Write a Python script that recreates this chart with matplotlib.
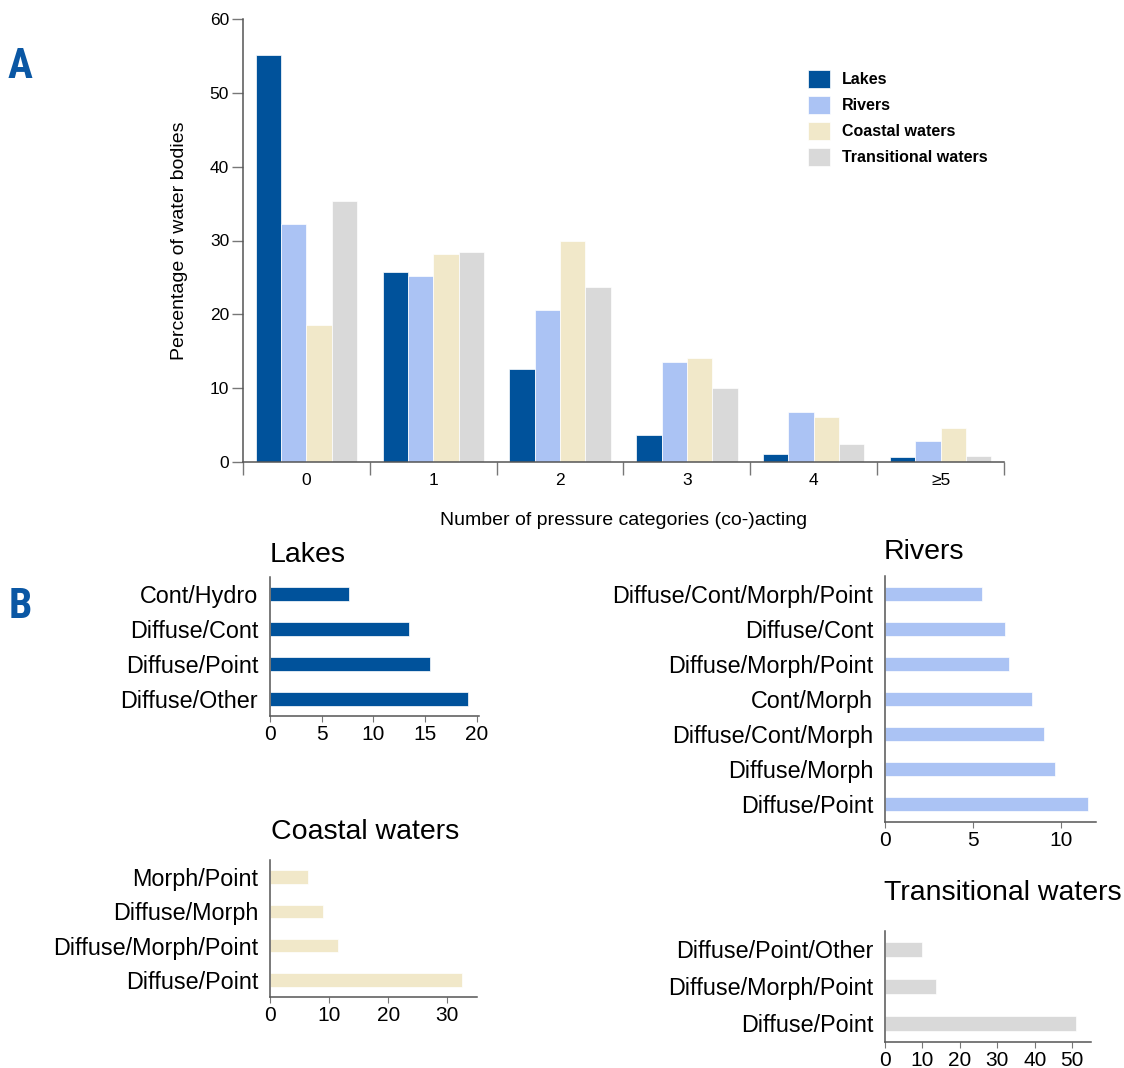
import matplotlib
matplotlib.use("Agg")
import matplotlib.pyplot as plt
from matplotlib import font_manager
import numpy as np

plt.rcParams['font.family'] = ['Liberation Sans', 'DejaVu Sans']

W, H = 1124, 1068

# Panel A: share of water bodies by number of co-acting pressure categories
categories = ['0', '1', '2', '3', '4', '≥5']
lakes = [55.1, 25.8, 12.6, 3.6, 1.1, 0.65]
rivers = [32.2, 25.2, 20.6, 13.55, 6.8, 2.85]
coastal = [18.6, 28.2, 30.0, 14.1, 6.1, 4.6]
transitional = [35.4, 28.5, 23.7, 10.05, 2.4, 0.8]
series_names = ['Lakes', 'Rivers', 'Coastal waters', 'Transitional waters']
colors = ['#00529b', '#abc3f4', '#f1e8c9', '#d9d9d9']

# Panel B: most frequent pressure combinations (bottom to top)
lakes_combos = ['Diffuse/Other', 'Diffuse/Point', 'Diffuse/Cont', 'Cont/Hydro']
lakes_pct = [19.1, 15.5, 13.4, 7.6]

rivers_combos = ['Diffuse/Point', 'Diffuse/Morph', 'Diffuse/Cont/Morph', 'Cont/Morph',
                 'Diffuse/Morph/Point', 'Diffuse/Cont', 'Diffuse/Cont/Morph/Point']
rivers_pct = [11.56, 9.66, 9.03, 8.36, 7.07, 6.8, 5.5]

coastal_combos = ['Diffuse/Point', 'Diffuse/Morph/Point', 'Diffuse/Morph', 'Morph/Point']
coastal_pct = [32.5, 11.5, 8.9, 6.5]

trans_combos = ['Diffuse/Point', 'Diffuse/Morph/Point', 'Diffuse/Point/Other']
trans_pct = [51.1, 13.6, 10.0]

SPINE = '#555555'
TICK = '#777777'


def pick_font(candidates, default):
    # first family that is really installed, without silent fallback
    for name in candidates:
        try:
            font_manager.findfont(font_manager.FontProperties(family=name), fallback_to_default=False)
            return name
        except ValueError:
            pass
    return default


LETTER_FONT = pick_font(['Liberation Sans Narrow', 'DejaVu Sans Condensed', 'Roboto Condensed',
                         'Open Sans Condensed', 'Noto Sans Condensed'], 'Roboto')


def px_axes(fig, left, top, right, bottom):
    # axes placed by pixel edges, measured from the top-left corner
    return fig.add_axes([left / W, 1 - bottom / H, (right - left) / W, (bottom - top) / H])


def style_spines(ax):
    for s in ['top', 'right']:
        ax.spines[s].set_visible(False)
    for s in ['left', 'bottom']:
        ax.spines[s].set_color(SPINE)
        ax.spines[s].set_linewidth(1.1)


def combo_panel(ax, labels, values, color, xmax, ticks):
    y = np.arange(len(labels))
    ax.barh(y, values, height=0.4, color=color, edgecolor='white', linewidth=0.5)
    ax.set_yticks(y, labels)
    ax.set_ylim(-0.5, len(labels) - 0.5)
    ax.set_xlim(0, xmax)
    ax.set_xticks(ticks)
    style_spines(ax)
    ax.tick_params(axis='y', length=0, pad=8.5, labelsize=16.8)
    ax.tick_params(axis='x', length=4.5, width=0.8, color=TICK, pad=2, labelsize=15)


fig = plt.figure(figsize=(W / 100, H / 100), dpi=100)

# ---- A: grouped bars ----
ax = px_axes(fig, 243, 19, 1004, 462)
x = np.arange(len(categories))
width = 0.2
for i, (vals, name, col) in enumerate(zip([lakes, rivers, coastal, transitional], series_names, colors)):
    ax.bar(x + (i - 1.5) * width, vals, width=width, color=col, edgecolor='white',
           linewidth=0.5, label=name)

ax.set_xlim(-0.5, len(categories) - 0.5)
ax.set_ylim(0, 60)
ax.set_yticks(np.arange(0, 61, 10))
ax.set_xticks(x, categories)
ax.set_xticks(np.arange(-0.5, len(categories)), minor=True)
style_spines(ax)
ax.tick_params(axis='x', which='major', length=0, pad=8, labelsize=12.5)
ax.tick_params(axis='x', which='minor', length=9, width=1.0, color=TICK, direction='out')
ax.tick_params(axis='y', length=8, width=1.0, color=TICK, pad=2, labelsize=12.5)
ax.set_ylabel('Percentage of water bodies', fontsize=14, labelpad=16)
ax.set_xlabel('Number of pressure categories (co-)acting', fontsize=14, labelpad=17)

ax.legend(loc='upper left', bbox_to_anchor=(808 / W, 1 - 70 / H), bbox_transform=fig.transFigure,
          frameon=False, borderpad=0, borderaxespad=0, handlelength=1.4, handleheight=1.35,
          handletextpad=0.75, labelspacing=0.5, prop={'weight': 'bold', 'size': 11.5})

# ---- B: pressure combinations per water category ----
ax_l = px_axes(fig, 270, 577, 479, 716)
combo_panel(ax_l, lakes_combos, lakes_pct, colors[0], 20.2, [0, 5, 10, 15, 20])

ax_r = px_axes(fig, 885, 576, 1096, 822)
combo_panel(ax_r, rivers_combos, rivers_pct, colors[1], 12, [0, 5, 10])

ax_c = px_axes(fig, 270, 860, 477, 997)
combo_panel(ax_c, coastal_combos, coastal_pct, colors[2], 35, [0, 10, 20, 30])

ax_t = px_axes(fig, 885, 931, 1091, 1042)
combo_panel(ax_t, trans_combos, trans_pct, colors[3], 55, [0, 10, 20, 30, 40, 50])

titles = [('Lakes', 270, 555), ('Rivers', 884, 552),
          ('Coastal waters', 271, 832), ('Transitional waters', 884, 893)]
for txt, tx, ty in titles:
    fig.text(tx / W, 1 - ty / H, txt, fontsize=20.5, ha='left', va='center')

# panel letters
for letter, ly in [('A', 67), ('B', 607)]:
    fig.text(20 / W, 1 - ly / H, letter, fontsize=30, fontweight='bold', color='#0a57a4',
             ha='center', va='center', family=[LETTER_FONT, 'DejaVu Sans'])

fig.savefig('out.png', dpi=100)
